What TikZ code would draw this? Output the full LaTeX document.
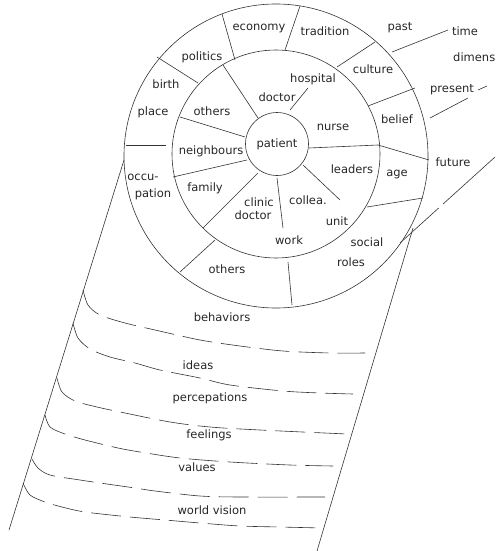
\documentclass[tikz,border=0pt]{standalone}
\usepackage{fontspec}
\setmainfont{DejaVu Sans}
\begin{document}
\begin{tikzpicture}[x=1pt,y=-1pt,
  ln/.style={line width=0.6pt, draw=black!80},
  lbl/.style={inner sep=0pt, text height=6.6pt, text depth=0pt, font=\fontsize{11.5}{12}\selectfont, text=black!85},
  layer/.style={ln, dash pattern=on 30pt off 9pt}]
\useasboundingbox (0,0) rectangle (495,551);
% circles
\node[draw=black!80, line width=0.6pt, circle, inner sep=0pt, minimum size=304pt] (outer) at (276,156) {};
\node[draw=black!80, line width=0.6pt, circle, inner sep=0pt, minimum size=208pt] (middle) at (276,154) {};
\node[draw=black!80, line width=0.6pt, circle, inner sep=0pt, minimum size=63pt] (pat) at (277,144) {};
% outer ring separators
\draw[ln] (235,60) -- (222,14);
\draw[ln] (285,50) -- (300,6);
\draw[ln] (337,67) -- (375,42);
\draw[ln] (368,106) -- (415,88);
\draw[ln] (378,145) -- (429,160);
\draw[ln] (367,207) -- (423,198);
\draw[ln] (288,262) -- (292,305);
\draw[ln] (215,240) -- (180,272);
\draw[ln] (126,145) -- (166,145);
\draw[ln] (198,83) -- (157,57);
% inner ring separators
\draw[ln] (258,118) -- (223,65);
\draw[ln] (245,137) -- (180,117);
\draw[ln] (247,160) -- (173,177);
\draw[ln] (258,173) -- (203,228);
\draw[ln] (277,178) -- (283,228);
\draw[ln] (303,165) -- (340,200);
\draw[ln] (309,148) -- (378,145);
\draw[ln] (290,110) -- (308,88);
% time lines
\draw[ln] (392,52) -- (448,30);
\draw[ln] (478,90) -- (487,86);
\draw[ln] (468,98) -- (430,118);
\draw[ln, dash pattern=on 70pt off 6pt on 60pt] (495,157) -- (400,243);
% cylinder sides
\draw[ln] (124,160) -- (9,530);
\draw[ln] (413,228) -- (317,551);
% layers
\draw[layer] plot[smooth] coordinates {(83,290) (88,305) (100,315) (125,323) (155,330) (200,340) (240,346) (283,351) (330,353) (365,353)};
\draw[layer] plot[smooth] coordinates {(73,323) (78,338) (90,349) (110,357) (135,363) (160,370) (200,378) (230,385) (283,391) (320,393) (353,394)};
\draw[layer] plot[smooth] coordinates {(57,378) (62,392) (75,401) (97,407) (125,413) (170,422) (210,427) (260,430) (347,434)};
\draw[layer] plot[smooth] coordinates {(45,415) (50,427) (65,434) (85,440) (118,448) (140,452) (180,458) (230,462) (290,465) (333,466)};
\draw[layer] plot[smooth] coordinates {(32,459) (38,468) (50,475) (80,480) (100,483) (135,488) (155,491) (200,496) (240,497) (325,497)};
\draw[layer] plot[smooth] coordinates {(23,483) (30,495) (45,502) (62,507) (85,512) (130,517) (165,520) (200,523) (240,526) (280,527) (322,528)};
% labels
\node[lbl] (economy) at (259,27) {economy};
\node[lbl] (tradition) at (325,32) {tradition};
\node[lbl] (politics) at (202,57) {politics};
\node[lbl] (birth) at (166,85) {birth};
\node[lbl] (place) at (153,112) {place};
\node[lbl] (culture) at (373,70) {culture};
\node[lbl] (belief) at (397,120) {belief};
\node[lbl] (age) at (397,173) {age};
\node[lbl] (occu) at (143,177) {occu-};
\node[lbl] (pation) at (153,194) {pation};
\node[lbl] (others2) at (227,270) {others};
\node[lbl] (social) at (367,243) {social};
\node[lbl] (roles) at (351,263) {roles};
\node[lbl] (others1) at (212,112) {others};
\node[lbl] (hospital) at (313,79) {hospital};
\node[lbl] (doctor1) at (277,98) {doctor};
\node[lbl] (nurse) at (333,127) {nurse};
\node[lbl] (patient) at (277,144) {patient};
\node[lbl] (neighbours) at (211,151) {neighbours};
\node[lbl] (family) at (205,188) {family};
\node[lbl] (clinic) at (259,203) {clinic};
\node[lbl] (doctor2) at (253,216) {doctor};
\node[lbl] (collea) at (308,201) {collea.};
\node[lbl] (work) at (289,241) {work};
\node[lbl] (leaders) at (352,170) {leaders};
\node[lbl] (unit) at (337,222) {unit};
\node[lbl] (past) at (400,27) {past};
\node[lbl] (time) at (465,32) {time};
\node[lbl, anchor=west] (dimens) at (453,58) {dimens};
\node[lbl] (present) at (452,89) {present};
\node[lbl] (future) at (453,163) {future};
\node[lbl] (behaviors) at (222,318) {behaviors};
\node[lbl] (ideas) at (198,366) {ideas};
\node[lbl] (percepations) at (210,398) {percepations};
\node[lbl] (feelings) at (209,435) {feelings};
\node[lbl] (values) at (197,468) {values};
\node[lbl] (world) at (212,511) {world vision};
\end{tikzpicture}
\end{document}
